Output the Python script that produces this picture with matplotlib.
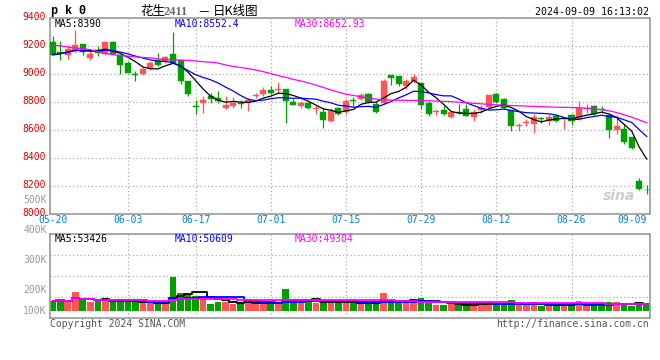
import numpy as np
import pandas as pd
import matplotlib
matplotlib.use("Agg")
import matplotlib.pyplot as plt
from matplotlib.transforms import ScaledTranslation

plt.rcParams['font.family'] = ['DejaVu Sans Mono', 'Noto Sans CJK SC']

# daily bars 05-20 .. 09-09
opens = [9231, 9157, 9140, 9164, 9217, 9117, 9176, 9145, 9231, 9136,
         9081, 9000, 9005, 9045, 9105, 9093, 9145, 9105, 8955, 8772,
         8793, 8843, 8831, 8760, 8771, 8795, 8793, 8845, 8855, 8890,
         8888, 8895, 8802, 8771, 8795, 8752, 8731, 8664, 8755, 8730,
         8816, 8821, 8857, 8785, 8797, 8993, 8988, 8916, 8952, 8936,
         8797, 8728, 8742, 8694, 8728, 8749, 8697, 8744, 8768, 8859,
         8821, 8744, 8628, 8651, 8647, 8685, 8666, 8701, 8680, 8706,
         8678, 8752, 8773, 8751, 8706, 8601, 8606, 8551, 8236, 8171]
highs = [9276, 9240, 9212, 9319, 9217, 9164, 9200, 9236, 9236, 9136,
         9093, 9026, 9050, 9098, 9152, 9129, 9302, 9105, 8955, 8819,
         8843, 8867, 8879, 8843, 8838, 8819, 8831, 8867, 8907, 8914,
         8943, 8895, 8824, 8807, 8802, 8783, 8760, 8755, 8764, 8826,
         8840, 8869, 8869, 8802, 8969, 8993, 8988, 8969, 9002, 8936,
         8809, 8754, 8773, 8737, 8785, 8785, 8749, 8778, 8850, 8869,
         8833, 8744, 8649, 8678, 8713, 8697, 8713, 8713, 8697, 8713,
         8809, 8785, 8778, 8773, 8713, 8706, 8647, 8553, 8260, 8205]
lows = [9136, 9100, 9112, 9152, 9136, 9100, 9129, 9140, 9140, 9002,
        9010, 8955, 8993, 9033, 9057, 9081, 9083, 8931, 8843, 8712,
        8724, 8795, 8795, 8748, 8760, 8760, 8736, 8831, 8843, 8855,
        8867, 8648, 8779, 8760, 8748, 8712, 8612, 8660, 8707, 8713,
        8773, 8816, 8797, 8725, 8785, 8921, 8916, 8897, 8940, 8749,
        8701, 8706, 8706, 8690, 8713, 8701, 8666, 8725, 8749, 8797,
        8754, 8594, 8594, 8630, 8582, 8654, 8637, 8659, 8606, 8637,
        8673, 8725, 8706, 8721, 8546, 8570, 8499, 8463, 8171, 8140]
closes = [9140, 9152, 9183, 9207, 9160, 9145, 9152, 9231, 9145, 9069,
          9010, 8995, 9040, 9081, 9064, 9121, 9083, 8950, 8855, 8767,
          8817, 8826, 8807, 8783, 8795, 8790, 8819, 8850, 8890, 8867,
          8893, 8807, 8783, 8795, 8755, 8757, 8669, 8736, 8717, 8809,
          8809, 8852, 8802, 8730, 8952, 8971, 8928, 8952, 8981, 8780,
          8713, 8732, 8713, 8730, 8723, 8701, 8730, 8761, 8850, 8804,
          8761, 8630, 8632, 8656, 8697, 8680, 8697, 8666, 8685, 8666,
          8761, 8756, 8713, 8747, 8601, 8630, 8515, 8475, 8176, 8169]
volumes = [74000, 87000, 62000, 140000, 79000, 62000, 72000, 79000, 62000, 87000,
           62000, 62000, 62000, 55000, 48000, 67000, 248000, 132000, 115000, 111000,
           91000, 53000, 67000, 62000, 53000, 60000, 77000, 53000, 53000, 48000,
           48000, 161000, 72000, 62000, 72000, 55000, 79000, 60000, 60000, 67000,
           55000, 62000, 48000, 60000, 132000, 62000, 62000, 62000, 67000, 96000,
           60000, 43000, 43000, 50000, 43000, 48000, 48000, 48000, 65000, 43000,
           55000, 79000, 48000, 43000, 48000, 36000, 48000, 41000, 41000, 48000,
           72000, 41000, 43000, 36000, 65000, 65000, 50000, 36000, 58000, 58000]
# MA30 of price (its window reaches back before 05-20)
ma30_price = [9207, 9203, 9195, 9188, 9182, 9176, 9162, 9148, 9140, 9134,
              9129, 9124, 9120, 9117, 9110, 9105, 9103, 9101, 9099, 9094,
              9090, 9086, 9080, 9066, 9056, 9048, 9040, 9030, 9018, 9005,
              8990, 8978, 8963, 8952, 8938, 8922, 8905, 8888, 8872, 8857,
              8848, 8838, 8830, 8822, 8817, 8815, 8814, 8813, 8812, 8812,
              8810, 8808, 8806, 8804, 8800, 8796, 8792, 8788, 8784, 8781,
              8779, 8776, 8774, 8772, 8770, 8768, 8766, 8764, 8763, 8762,
              8760, 8757, 8752, 8746, 8738, 8726, 8710, 8693, 8673, 8653]

# legend values as printed on the chart
price_ma_txt = ["MA5:8390", "MA10:8552.4", "MA30:8652.93"]
vol_ma_txt = ["MA5:53426", "MA10:50609", "MA30:49304"]
ma_colors = ['black', '#0000ff', '#ff00ff']

tick_idx = [0, 10, 19, 29, 39, 49, 59, 69, 79]
tick_lbl = ["05-20", "06-03", "06-17", "07-01", "07-15", "07-29", "08-12", "08-26", "09-09"]
price_ticks = [8000, 8200, 8400, 8600, 8800, 9000, 9200, 9400]
vol_lbl = ["500K", "400K", "300K", "200K", "100K"]
vol_lbl_px = [200, 230, 260, 290, 311]

RED = '#ff5555'
GREEN = '#00a000'
GRID = '#aaaaaa'
BORDER = '#999999'

o = np.array(opens); h = np.array(highs); l = np.array(lows); c = np.array(closes)
x = np.arange(len(c))
up = c >= o
cols = np.where(up, RED, GREEN)

ma5 = pd.Series(c).rolling(5, min_periods=1).mean()
ma10 = pd.Series(c).rolling(10, min_periods=1).mean()
v = pd.Series(volumes)
vma5 = v.rolling(5, min_periods=1).mean()
vma10 = v.rolling(10, min_periods=1).mean()
vma30 = v.rolling(30, min_periods=1).mean()

fig = plt.figure(figsize=(6.6, 3.6), dpi=100)
W, H = 660, 360
ax = fig.add_axes([50/W, 1-214/H, 600/W, (214-18.3)/H])
axv = fig.add_axes([50/W, 1-317.7/H, 600/W, (317.7-234.3)/H])

xlim = (-0.36, 79.44)
for a in (ax, axv):
    a.set_xlim(*xlim)
    for s in a.spines.values():
        s.set_color(BORDER)
        s.set_linewidth(1.2)
    a.tick_params(length=0)
    for t in tick_idx[1:-1]:
        a.axvline(t, color=GRID, lw=0.9, ls=(0, (1, 2)), zorder=0)

# price panel
for p in price_ticks[1:-1]:
    ax.axhline(p, color=GRID, lw=0.9, ls=(0, (1, 2)), zorder=0)
ax.set_ylim(8000, 9400)
ax.vlines(x, l, h, colors=cols, lw=0.9, zorder=2)
body = np.maximum(np.abs(c - o), 6)
ax.bar(x, body, bottom=np.minimum(o, c), width=0.8, color=cols, edgecolor=cols, lw=0.3, zorder=3)
for ser, col in zip([ma5, ma10, ma30_price], ma_colors):
    ax.plot(x, ser, color=col, lw=0.9, zorder=4)

ax.set_yticks(price_ticks)
ax.set_yticklabels([str(p) for p in price_ticks], color='#e00000', fontsize=7)
ax.tick_params(axis='y', pad=3)
for lab in ax.get_yticklabels():
    lab.set_transform(lab.get_transform() + ScaledTranslation(0, 2/100, fig.dpi_scale_trans))
ax.set_xticks(tick_idx)
ax.set_xticklabels(tick_lbl, color='#0080e0', fontsize=7)
ax.tick_params(axis='x', pad=1)
ax.get_xticklabels()[0].set_x(xlim[0])
ax.get_xticklabels()[-1].set_horizontalalignment('right')
ax.get_xticklabels()[-1].set_x(xlim[1])

for i, (txt, col) in enumerate(zip(price_ma_txt, ma_colors)):
    ax.text((5 + 120*i)/600, 1-6/195.7, txt, transform=ax.transAxes,
            fontsize=7, color=col, va='center')
ax.text(0.975, 0.09, "sina", transform=ax.transAxes, fontsize=10, color='#cccccc',
        fontweight='bold', style='italic', ha='right', va='center', family='DejaVu Sans')

# volume panel
vlo, vhi = -48000, 553000
axv.set_ylim(vlo, vhi)
for f in (0.25, 0.5, 0.75):
    axv.axhline(vlo + (vhi - vlo) * f, color=GRID, lw=0.9, ls=(0, (1, 2)), zorder=0)
axv.bar(x, volumes, width=0.88, color=cols, zorder=2)
for ser, col in zip([vma5, vma10, vma30], ma_colors):
    axv.plot(x, ser, color=col, lw=1.3, drawstyle='steps-mid', zorder=3)
axv.set_xticks([])
axv.set_yticks([])
for i, (txt, col) in enumerate(zip(vol_ma_txt, ma_colors)):
    axv.text((5 + 120*i)/600, 1-5/83.4, txt, transform=axv.transAxes,
             fontsize=7, color=col, va='center')
for lab, py in zip(vol_lbl, vol_lbl_px):
    fig.text(46.5/W, 1-py/H, lab, color='#999999', fontsize=7, ha='right', va='center')

# header and footer
fig.text(51/W, 1-11/H, "p k 0", fontsize=8.5, fontweight='bold', va='center',
         family='Liberation Mono')
base = 1 - 15/H
fig.text(140/W, base, "花生", fontsize=9, va='baseline', family=['Noto Sans CJK SC'])
fig.text(164/W, base, "2411", fontsize=9, va='baseline', color='#666666',
         family=['Liberation Serif'], fontweight='bold')
fig.text(197/W, base, "－", fontsize=9, va='baseline', family=['Noto Sans CJK SC'])
fig.text(213/W, base, "日K线图", fontsize=9, va='baseline', family=['Noto Sans CJK SC'])
fig.text(649/W, 1-12/H, "2024-09-09 16:13:02", fontsize=7.2, ha='right', va='center')
fig.text(50/W, 1-324/H, "Copyright 2024 SINA.COM", fontsize=7, color='#555555', va='center')
fig.text(649/W, 1-324/H, "http://finance.sina.com.cn", fontsize=7, color='#555555',
         ha='right', va='center')

fig.savefig("out.png", dpi=100)
